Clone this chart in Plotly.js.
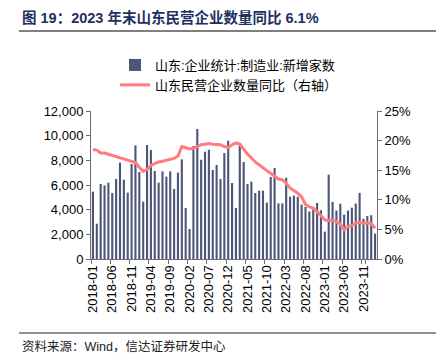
<!DOCTYPE html>
<html>
<head>
<meta charset="utf-8">
<script src="https://cdn.plot.ly/plotly-3.0.1.min.js"></script>
<style>html,body{margin:0;padding:0;background:#fff;}#chart{width:438px;height:364px;}</style>
</head>
<body>
<div id="chart"></div>
<script>
// Monthly categories 2018-01 .. 2024-02
var months = ["2018-01","2018-02","2018-03","2018-04","2018-05","2018-06","2018-07","2018-08","2018-09","2018-10","2018-11","2018-12",
"2019-01","2019-02","2019-03","2019-04","2019-05","2019-06","2019-07","2019-08","2019-09","2019-10","2019-11","2019-12",
"2020-01","2020-02","2020-03","2020-04","2020-05","2020-06","2020-07","2020-08","2020-09","2020-10","2020-11","2020-12",
"2021-01","2021-02","2021-03","2021-04","2021-05","2021-06","2021-07","2021-08","2021-09","2021-10","2021-11","2021-12",
"2022-01","2022-02","2022-03","2022-04","2022-05","2022-06","2022-07","2022-08","2022-09","2022-10","2022-11","2022-12",
"2023-01","2023-02","2023-03","2023-04","2023-05","2023-06","2023-07","2023-08","2023-09","2023-10","2023-11","2023-12",
"2024-01","2024-02"];

// 山东:企业统计:制造业:新增家数
var newFirms = [5460,2860,6080,5970,6190,5350,6490,7810,6430,5380,7700,9220,
7050,4650,9240,8840,7140,6190,7110,6680,7110,5680,7000,8080,
4140,2430,9160,10540,8050,8700,8860,7220,7620,6490,8590,9590,
6160,4140,9220,7860,6080,6270,5350,5540,5540,4570,6650,7380,
4510,4510,6590,5050,5140,5050,4410,4220,3860,4030,4540,3950,
2220,6840,4630,3930,4480,3600,3930,4160,4500,5360,3260,3490,
3550,2050];

// 山东民营企业数量同比 (%)
var privateYoY = [18.5,18.4,17.9,17.9,17.7,17.5,17.3,17.1,16.9,16.7,16.5,16.3,
15.5,14.8,15.1,15.8,16.1,16.4,16.5,16.7,16.9,17.0,17.4,19.0,
18.8,18.6,18.7,19.0,19.3,19.4,19.5,19.4,19.3,19.3,19.0,18.8,
19.3,19.6,19.4,18.6,17.7,17.1,16.4,15.9,15.4,14.9,14.5,13.9,
13.5,13.4,12.8,12.0,11.6,11.1,10.5,9.2,8.8,8.6,8.0,7.2,
6.6,6.5,6.6,6.3,5.9,4.95,5.5,5.6,6.1,6.2,6.0,6.1,
6.0,5.2];

var seriesNames = ["山东:企业统计:制造业:新增家数", "山东民营企业数量同比（右轴）"];
var titleText = "图 19：2023 年末山东民营企业数量同比 6.1%";
var sourceText = "资料来源：Wind，信达证券研发中心";

var tickLabels = months.filter(function(m, i){ return i % 5 === 0; });

var latin = "Liberation Sans, Arial, Noto Sans CJK SC, sans-serif";
var cjk = "Liberation Sans, Noto Sans CJK SC, sans-serif";

var W = 438, H = 364, L = 91, R = 61, T = 111, B = 105;
var pw = W - L - R, ph = H - T - B;
function px(x){ return (x - L) / pw; }
function py(y){ return (H - B - y) / ph; }

var data = [
  {
    type: "bar",
    x: months,
    y: newFirms,
    name: seriesNames[0],
    marker: {color: "#4d5679"},
    yaxis: "y"
  },
  {
    type: "scatter",
    mode: "lines",
    x: months,
    y: privateYoY,
    name: seriesNames[1],
    line: {color: "#ff7c80", width: 3},
    yaxis: "y2"
  }
];

var axisColor = "#6e6e6e";
var layout = {
  width: W, height: H,
  margin: {l: L, r: R, t: T, b: B, pad: 0},
  paper_bgcolor: "#fff",
  plot_bgcolor: "#fff",
  showlegend: true,
  bargap: 0.45,
  legend: {
    x: px(115), y: py(50), xanchor: "left", yanchor: "top",
    bgcolor: "rgba(0,0,0,0)",
    font: {family: cjk, size: 13, color: "#000"},
    traceorder: "normal",
    itemwidth: 30
  },
  xaxis: {
    type: "category",
    range: [-0.5, months.length - 0.5],
    tickmode: "array",
    tickvals: tickLabels,
    ticktext: tickLabels,
    tickangle: -90,
    ticks: "outside",
    ticklen: 4,
    tickcolor: axisColor,
    tickson: "boundaries",
    showline: true,
    linecolor: axisColor,
    linewidth: 1,
    showgrid: false,
    tickfont: {family: latin, size: 13, color: "#000"},
    fixedrange: true
  },
  yaxis: {
    range: [0, 12000],
    dtick: 2000,
    tickformat: ",d",
    ticks: "outside",
    ticklen: 4,
    tickcolor: axisColor,
    showline: true,
    linecolor: axisColor,
    showgrid: false,
    zeroline: false,
    tickfont: {family: latin, size: 13, color: "#000"}
  },
  yaxis2: {
    overlaying: "y",
    side: "right",
    range: [0, 25],
    dtick: 5,
    ticksuffix: "%",
    ticks: "outside",
    ticklen: 4,
    tickcolor: axisColor,
    showline: true,
    linecolor: axisColor,
    showgrid: false,
    zeroline: false,
    tickfont: {family: latin, size: 13, color: "#000"}
  },
  annotations: [
    {
      text: "<b>" + titleText + "</b>",
      xref: "paper", yref: "paper",
      x: px(20), y: py(17), xanchor: "left", yanchor: "middle",
      showarrow: false,
      font: {family: cjk, size: 14.5, color: "#1f3060"}
    },
    {
      text: sourceText,
      xref: "paper", yref: "paper",
      x: px(20), y: py(346), xanchor: "left", yanchor: "middle",
      showarrow: false,
      font: {family: cjk, size: 12.5, color: "#222"}
    }
  ],
  shapes: [
    {type: "line", xref: "paper", yref: "paper", x0: px(19), x1: px(436), y0: py(31), y1: py(31),
     line: {color: "#808080", width: 2}},
    {type: "line", xref: "paper", yref: "paper", x0: px(19), x1: px(436), y0: py(333), y1: py(333),
     line: {color: "#222", width: 1}}
  ]
};

Plotly.newPlot("chart", data, layout, {displayModeBar: false, staticPlot: true});
</script>
</body>
</html>
